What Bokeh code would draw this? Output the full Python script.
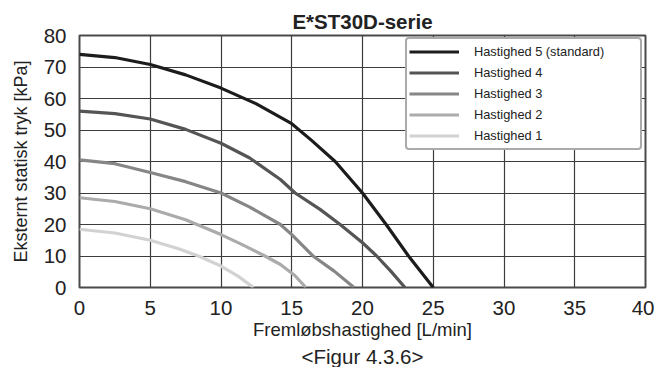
from bokeh.plotting import figure
from bokeh.models import Range1d, Legend, LegendItem, Title, FixedTicker
from bokeh.embed import file_html
from bokeh.resources import INLINE

# Data
series_names = ["Hastighed 5 (standard)", "Hastighed 4", "Hastighed 3", "Hastighed 2", "Hastighed 1"]
s5_x = [0, 2.5, 5, 7.5, 10, 12.5, 15, 16.4, 18.07, 20, 21.67, 23.25, 25]
s5_y = [74, 73, 70.8, 67.5, 63.3, 58.3, 52, 46.7, 40, 30, 20, 10, 0]
s4_x = [0, 2.5, 5, 7.5, 10, 12, 14.2, 15.24, 17, 18.42, 20, 21, 22, 23]
s4_y = [56, 55.2, 53.5, 50.2, 45.8, 41.2, 34.3, 30, 24.8, 20, 14.2, 10, 5.2, 0]
s3_x = [0, 2.5, 5, 7.5, 10, 12, 14.2, 15, 16.5, 18, 19.4]
s3_y = [40.5, 39.3, 36.5, 33.6, 30, 25.6, 20, 16.8, 10, 5.2, 0]
s2_x = [0, 2.5, 5, 7.5, 10, 11.5, 13.1, 14.2, 15.2, 16]
s2_y = [28.5, 27.3, 25, 21.5, 16.8, 13.6, 10, 7.3, 3.9, 0]
s1_x = [0, 2.5, 5, 7, 8.4, 10, 11.2, 12.3]
s1_y = [18.5, 17.3, 15, 12.3, 10, 6.8, 3.6, 0]
x_ticks = [0, 5, 10, 15, 20, 25, 30, 35, 40]
y_ticks = [0, 10, 20, 30, 40, 50, 60, 70, 80]

colors = ["#1c1c1c", "#555555", "#868686", "#ababab", "#d2d2d2"]
FONT = "Liberation Sans"
TXT = "#222222"

p = figure(width=654, height=367, output_backend="svg", toolbar_location=None,
           x_range=Range1d(0, 40), y_range=Range1d(0, 80),
           min_border_left=79, min_border_right=9, min_border_top=35, min_border_bottom=79)

p.title.text = "E*ST30D-serie"
p.title.align = "center"
p.title.text_font = FONT
p.title.text_font_size = "20.5px"
p.title.text_font_style = "bold"
p.title.text_color = TXT
p.title.standoff = 5

p.xaxis.ticker = FixedTicker(ticks=x_ticks)
p.yaxis.ticker = FixedTicker(ticks=y_ticks)
for ax in (p.xaxis, p.yaxis):
    ax.major_label_text_font = FONT
    ax.major_label_text_font_size = "20.5px"
    ax.major_label_text_color = TXT
    ax.axis_label_text_font = FONT
    ax.axis_label_text_font_size = "18.5px"
    ax.axis_label_text_font_style = "normal"
    ax.axis_label_text_color = TXT
    ax.axis_line_color = None
    ax.major_tick_line_color = None
    ax.minor_tick_line_color = None

p.xaxis.axis_label = "Fremløbshastighed [L/min]"
p.xaxis.major_label_standoff = 7
p.xaxis.axis_label_standoff = 1
p.yaxis.axis_label = "Eksternt statisk tryk [kPa]"
p.yaxis.axis_label_text_font_size = "18px"
p.yaxis.major_label_standoff = 7
p.yaxis.axis_label_standoff = 10

fig_title = Title(text="<Figur 4.3.6>", align="center", text_font=FONT, text_font_size="20.5px",
                  text_font_style="normal", text_color=TXT, standoff=0)
p.add_layout(fig_title, "below")

p.xgrid.grid_line_color = "#3c3c3c"
p.ygrid.grid_line_color = "#3c3c3c"
p.xgrid.grid_line_width = 1.2
p.ygrid.grid_line_width = 1.2
p.xgrid.ticker = FixedTicker(ticks=x_ticks)
p.ygrid.ticker = FixedTicker(ticks=y_ticks)

p.outline_line_color = "#4a4a4a"
p.outline_line_width = 2

xs = [s5_x, s4_x, s3_x, s2_x, s1_x]
ys = [s5_y, s4_y, s3_y, s2_y, s1_y]
items = []
for name, x, y, c in zip(series_names, xs, ys, colors):
    r = p.line(x, y, line_color=c, line_width=3.2, line_join="round")
    items.append(LegendItem(label=name, renderers=[r]))

legend = Legend(items=items, location=(326, 137))
legend.label_text_font = FONT
legend.label_text_font_size = "12.8px"
legend.label_text_color = TXT
legend.glyph_width = 50
legend.glyph_height = 21
legend.label_height = 21
legend.label_width = 164
legend.label_standoff = 15
legend.spacing = 0
legend.padding = 2
legend.margin = 0
legend.border_line_color = "#555555"
legend.border_line_width = 2
legend.background_fill_alpha = 1
if "border_radius" in Legend.properties():
    legend.border_radius = 4
p.add_layout(legend)

open("out.html", "w").write(file_html(p, INLINE))
